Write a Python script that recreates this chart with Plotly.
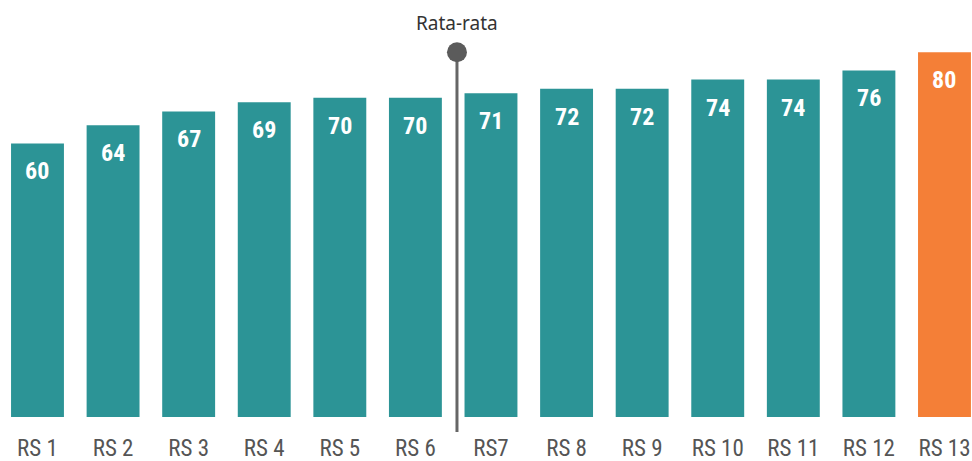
import plotly.graph_objects as go

# Hospital scores
categories = ["RS 1", "RS 2", "RS 3", "RS 4", "RS 5", "RS 6", "RS7",
              "RS 8", "RS 9", "RS 10", "RS 11", "RS 12", "RS 13"]
scores = [60, 64, 67, 69, 70, 70, 71, 72, 72, 74, 74, 76, 80]
highlight = "RS 13"
avg_label = "Rata-rata"

TEAL = "#2C9496"
ORANGE = "#F47F37"
GREY = "#5B5B5B"
COND = "Roboto Condensed, Liberation Sans Narrow, Arial Narrow, DejaVu Sans Condensed, Roboto, sans-serif"

xs = list(range(len(categories)))
colors = [ORANGE if c == highlight else TEAL for c in categories]

y_min, y_max = -3.29, 91.45
avg_x = 5.55          # marker sits in the gap between RS 6 and RS7
avg_top = max(scores)

fig = go.Figure()
fig.add_trace(go.Bar(
    x=xs, y=scores, marker=dict(color=colors, line=dict(width=0)),
    width=0.7, hoverinfo="skip",
))

# vertical average marker with a dot on top
fig.add_trace(go.Scatter(
    x=[avg_x, avg_x], y=[y_min, avg_top], mode="lines",
    line=dict(color="#666666", width=3), hoverinfo="skip", cliponaxis=False,
))
fig.add_trace(go.Scatter(
    x=[avg_x], y=[avg_top], mode="markers",
    marker=dict(color=GREY, size=20), hoverinfo="skip", cliponaxis=False,
))

annotations = [
    dict(x=x, y=v, text=str(v), showarrow=False, yanchor="middle", yshift=-28,
         font=dict(family=COND, size=24, color="white", weight="bold"))
    for x, v in zip(xs, scores)
]
annotations.append(dict(
    x=avg_x, y=avg_top, text=avg_label, showarrow=False, yanchor="middle",
    yshift=29, font=dict(family="Noto Sans, Open Sans, sans-serif", size=19, color="#333333"),
))

fig.update_layout(
    width=972, height=461,
    margin=dict(l=0, r=0, t=0, b=29, pad=0),
    paper_bgcolor="white", plot_bgcolor="white",
    showlegend=False, bargap=0.3,
    annotations=annotations,
    xaxis=dict(
        range=[-0.496, 12.364], tickmode="array", tickvals=xs, ticktext=categories,
        showgrid=False, zeroline=False, showline=False, ticks="",
        tickfont=dict(family=COND, size=23, color="#555555"),
    ),
    yaxis=dict(range=[y_min, y_max], visible=False, showgrid=False, zeroline=False),
)

fig.write_html("out.html")
